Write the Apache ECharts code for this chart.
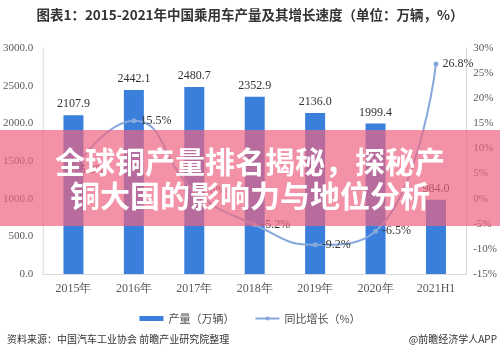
<!DOCTYPE html>
<html>
<head>
<meta charset="utf-8">
<script src="https://cdn.jsdelivr.net/npm/echarts@6/dist/echarts.min.js"></script>
<style>html,body{margin:0;padding:0;background:#fff;}#c{width:500px;height:357px;}</style>
</head>
<body>
<div id="c"></div>
<script>
var categories = ['2015年','2016年','2017年','2018年','2019年','2020年','2021H1'];
var production = [2107.9, 2442.1, 2480.7, 2352.9, 2136.0, 1999.4, 984.0];
var growth = [5.8, 15.5, 1.6, -5.2, -9.2, -6.5, 26.8];
var leftTicks = {min: 0, max: 3000, interval: 500};
var rightTicks = {min: -15, max: 30, interval: 5};
var titleText = '图表1：2015-2021年中国乘用车产量及其增长速度（单位：万辆，%）';
var sourceText = '资料来源：中国汽车工业协会 前瞻产业研究院整理';
var brandText = '@前瞻经济学人APP';
var bannerLines = ['全球铜产量排名揭秘，探秘产', '铜大国的影响力与地位分析'];

var serif = '"Liberation Serif","DejaVu Serif",serif';
var sans = '"Noto Sans CJK SC","Noto Sans",sans-serif';
var chart = echarts.init(document.getElementById('c'), null, {renderer: 'canvas'});
chart.setOption({
  animation: false,
  backgroundColor: '#ffffff',
  grid: {left: 43, right: 33, top: 48, bottom: 83},
  legend: {
    top: 308, left: 'center', itemGap: 20, itemWidth: 24, itemHeight: 5,
    textStyle: {fontFamily: sans, fontSize: 11, color: '#4d4d4d'},
    data: [{name: '产量（万辆）', icon: 'rect'}, {name: '同比增长（%）'}]
  },
  xAxis: {
    type: 'category', data: categories,
    axisLine: {show: true, lineStyle: {color: '#d9d9d9'}},
    axisTick: {show: false},
    axisLabel: {fontFamily: serif, fontSize: 12, color: '#595959', margin: 9}
  },
  yAxis: [{
    type: 'value', min: leftTicks.min, max: leftTicks.max, interval: leftTicks.interval,
    splitLine: {show: false},
    axisLine: {show: true, lineStyle: {color: '#d9d9d9'}},
    axisTick: {show: false},
    axisLabel: {fontFamily: serif, fontSize: 11, color: '#595959', margin: 10,
      formatter: function (v) { return v.toFixed(1); }}
  }, {
    type: 'value', min: rightTicks.min, max: rightTicks.max, interval: rightTicks.interval,
    splitLine: {show: false},
    axisLine: {show: true, lineStyle: {color: '#d9d9d9'}},
    axisTick: {show: false},
    axisLabel: {fontFamily: serif, fontSize: 11, color: '#595959', margin: 7,
      formatter: '{value}%'}
  }],
  series: [{
    name: '产量（万辆）', type: 'bar', data: production, barWidth: 20,
    itemStyle: {color: '#3b7fdc'},
    label: {show: true, position: 'top', distance: 5, fontFamily: serif, fontSize: 12, color: '#333',
      formatter: function (p) { return p.value.toFixed(1); }}
  }, {
    name: '同比增长（%）', type: 'line', yAxisIndex: 1, data: growth, smooth: true,
    symbol: 'circle', symbolSize: 5,
    lineStyle: {color: '#86a8dc', width: 2},
    itemStyle: {color: '#86a8dc'},
    label: {show: true, position: 'right', distance: 4, fontFamily: serif, fontSize: 12, color: '#333',
      formatter: function (p) { return p.value.toFixed(1) + '%'; }}
  }],
  graphic: [
    {type: 'text', left: 'center', top: 8, style: {text: titleText, font: 'bold 13.5px ' + sans, fill: '#333'}},
    {type: 'text', left: 7, top: 334, style: {text: sourceText, font: '10px ' + sans, fill: '#333'}},
    {type: 'text', right: 3, top: 334, style: {text: brandText, font: '10px ' + sans, fill: '#333'}},
    {type: 'rect', left: 0, top: 130, z: 100, shape: {x: 0, y: 0, width: 500, height: 96},
      style: {fill: 'rgba(238,100,130,0.7)'}},
    {type: 'text', left: 'center', top: 147, z: 101,
      style: {text: bannerLines[0], font: 'bold 30px ' + sans, fill: '#ffffff'}},
    {type: 'text', left: 'center', top: 181, z: 101,
      style: {text: bannerLines[1], font: 'bold 30px ' + sans, fill: '#ffffff'}}
  ]
});
</script>
</body>
</html>
